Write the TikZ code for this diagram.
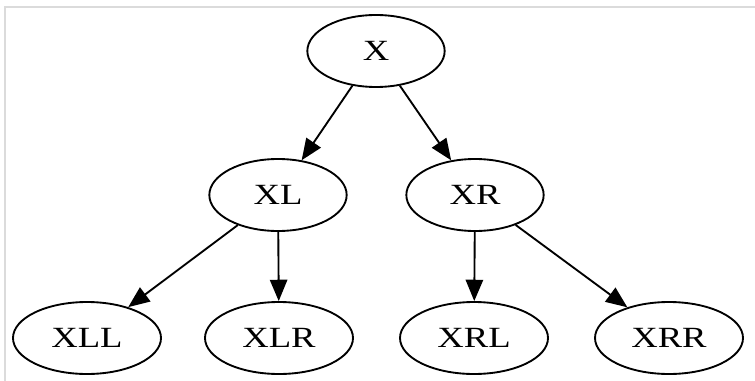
\documentclass[tikz,border=0pt]{standalone}
\usepackage{fontspec}
\setmainfont{Liberation Serif}[FakeStretch=1.25]
\usepackage{tikz}
\usetikzlibrary{shapes.geometric,arrows.meta}

\tikzset{
  treenode/.style={ellipse, draw, line width=1.4pt, inner sep=0pt,
    minimum width=103pt, minimum height=54pt, font=\fontsize{22}{24}\selectfont},
  leafnode/.style={treenode, minimum width=111pt},
  treeedge/.style={line width=1.4pt, -{Triangle[length=16pt,width=13pt]}}
}

\begin{document}
\begin{tikzpicture}[x=0.75pt, y=-0.75pt]
        \useasboundingbox (0,0) rectangle (755,381);

        % Frame
        \draw[black!14, line width=1pt] (5,381) -- (5,7) -- (755,7);

        % Root
        \node[treenode] (x) at (376,51) {X};

        % Second level
        \node[treenode] (xl) at (278,195) {XL};
        \node[treenode] (xr) at (475,195) {XR};

        % Leaves
        \node[leafnode] (xll) at (87,338) {XLL};
        \node[leafnode] (xlr) at (279,338) {XLR};
        \node[leafnode] (xrl) at (474,338) {XRL};
        \node[leafnode] (xrr) at (669,338) {XRR};

        % Edges
        \draw[treeedge] (x) -- (xl);
        \draw[treeedge] (x) -- (xr);
        \draw[treeedge] (xl) -- (xll);
        \draw[treeedge] (xl) -- (xlr);
        \draw[treeedge] (xr) -- (xrl);
        \draw[treeedge] (xr) -- (xrr);

    \end{tikzpicture}
\end{document}
